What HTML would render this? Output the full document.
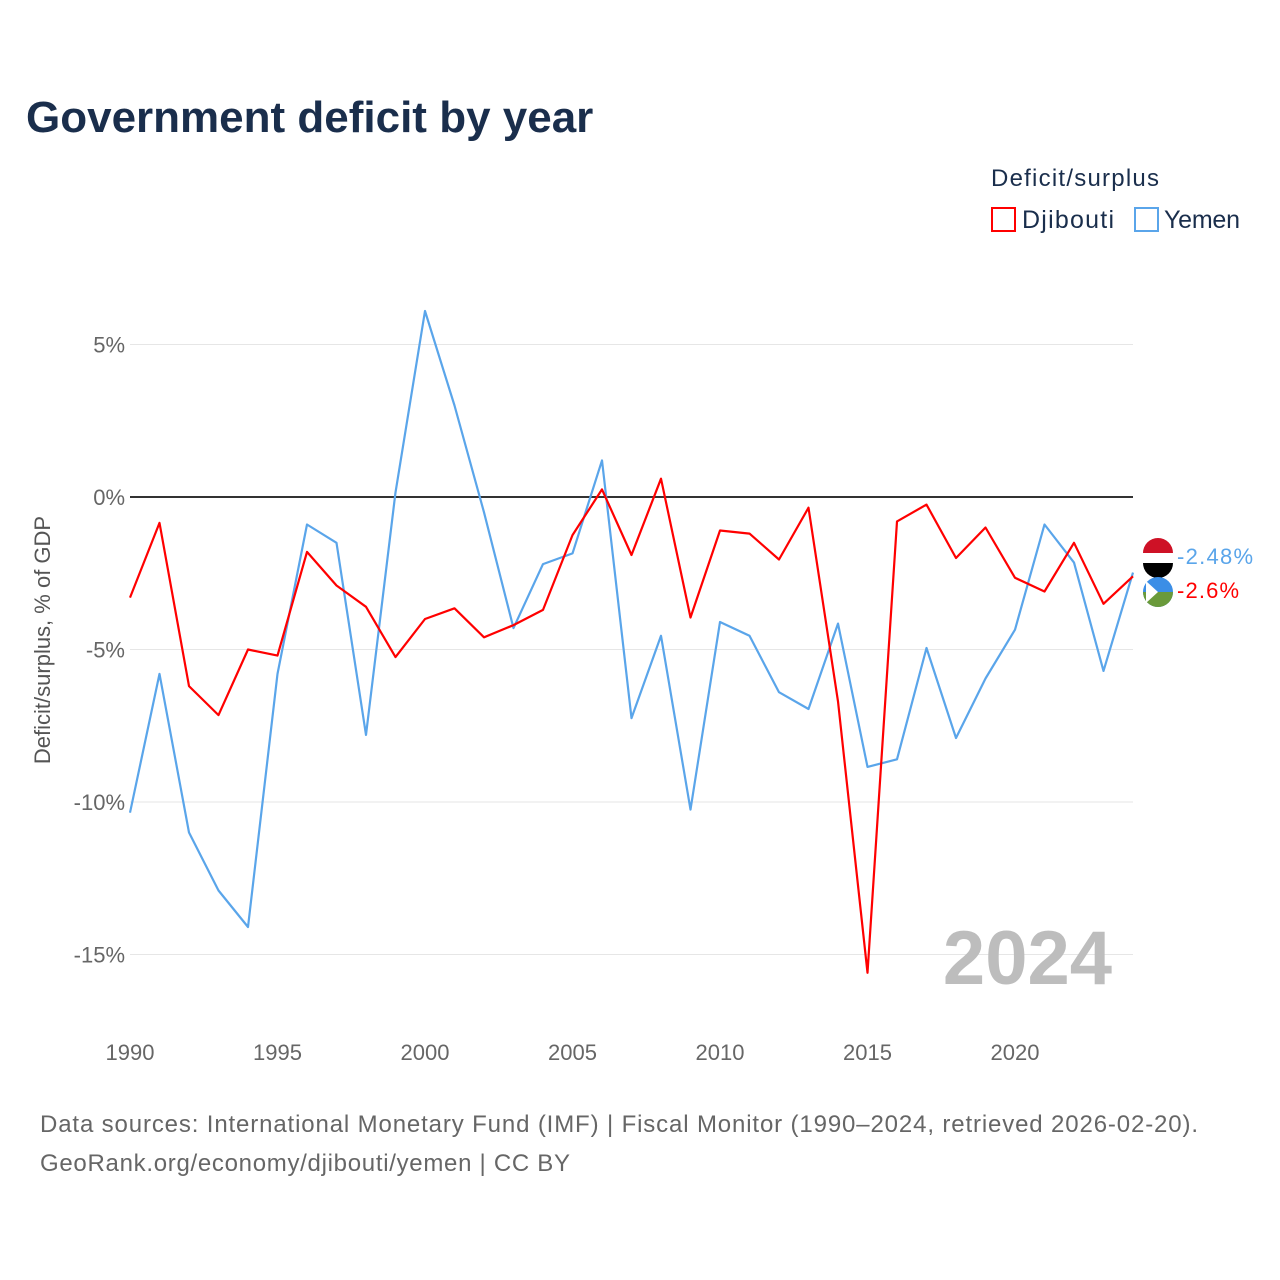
<!DOCTYPE html>
<html><head><meta charset="utf-8">
<style>
body{margin:0;background:#fff;font-family:"Liberation Sans",sans-serif;}
#wrap{position:relative;width:1280px;height:1280px;overflow:hidden;}
</style></head>
<body>
<div id="wrap">
<svg id="chart" width="1280" height="1280" xmlns="http://www.w3.org/2000/svg">
  <text x="26" y="132" font-size="44" font-weight="bold" fill="#1a2e4c">Government deficit by year</text>
  <text x="991" y="186" font-size="24" fill="#1a2e4c" textLength="168">Deficit/surplus</text>
  <g>
    <rect x="992" y="208" width="23" height="23" fill="none" stroke="#ff0000" stroke-width="2"/>
    <text x="1022" y="228" font-size="25" fill="#1a2e4c" textLength="92">Djibouti</text>
  </g>
  <g>
    <rect x="1135" y="208" width="23" height="23" fill="none" stroke="#5aa5ea" stroke-width="2"/>
    <text x="1164" y="228" font-size="25" fill="#1a2e4c" textLength="76">Yemen</text>
  </g>
  <text transform="translate(50,640) rotate(-90)" text-anchor="middle" font-size="22" fill="#555">Deficit/surplus, % of GDP</text>
  <g id="grid"></g>
  <text x="1112" y="984" text-anchor="end" font-size="76" font-weight="bold" fill="#bdbdbd">2024</text>
  <g id="series"></g>
  <text x="40" y="1132" font-size="24" fill="#666" textLength="1158">Data sources: International Monetary Fund (IMF) | Fiscal Monitor (1990–2024, retrieved 2026-02-20).</text>
  <text x="40" y="1171" font-size="24" fill="#666" textLength="530">GeoRank.org/economy/djibouti/yemen | CC BY</text>
</svg>
</div>
<script>
const years = [1990,1991,1992,1993,1994,1995,1996,1997,1998,1999,2000,2001,2002,2003,2004,2005,2006,2007,2008,2009,2010,2011,2012,2013,2014,2015,2016,2017,2018,2019,2020,2021,2022,2023,2024];
const djibouti = [-3.3,-0.85,-6.2,-7.15,-5.0,-5.2,-1.8,-2.9,-3.6,-5.25,-4.0,-3.65,-4.6,-4.2,-3.7,-1.25,0.25,-1.9,0.6,-3.95,-1.1,-1.2,-2.05,-0.35,-6.7,-15.6,-0.8,-0.25,-2.0,-1.0,-2.65,-3.1,-1.5,-3.5,-2.6];
const yemen = [-10.35,-5.8,-11.0,-12.9,-14.1,-5.8,-0.9,-1.5,-7.8,0.15,6.1,3.0,-0.5,-4.3,-2.2,-1.85,1.2,-7.25,-4.55,-10.25,-4.1,-4.55,-6.4,-6.95,-4.15,-8.85,-8.6,-4.95,-7.9,-5.95,-4.35,-0.9,-2.15,-5.7,-2.48];
const yTicks = [5,0,-5,-10,-15];
const yTickLabels = ["5%","0%","-5%","-10%","-15%"];
const xTicks = [1990,1995,2000,2005,2010,2015,2020];

const NS="http://www.w3.org/2000/svg";
const X0=130,X1=1133;
function xs(yr){return X0+(yr-1990)*(X1-X0)/(2024-1990);}
function ys(v){return 497-v*30.5;}
const grid=document.getElementById('grid');
const series=document.getElementById('series');
function mk(tag,attrs,parent){const e=document.createElementNS(NS,tag);for(const k in attrs)e.setAttribute(k,attrs[k]);parent.appendChild(e);return e;}

yTicks.forEach((t,i)=>{
  const l=mk('line',{x1:X0,x2:X1,y1:ys(t),y2:ys(t),stroke:t===0?'#333':'#e6e6e6','stroke-width':t===0?2:1},grid);
  
  
  const tx=mk('text',{x:125,y:ys(t)+8,'text-anchor':'end','font-size':22,fill:'#666'},grid);
  tx.textContent=yTickLabels[i];
  
  
});
xTicks.forEach(t=>{
  const tx=mk('text',{x:xs(t),y:1060,'text-anchor':'middle','font-size':22,fill:'#666'},grid);
  tx.textContent=String(t);
  
  
});
function line(vals,color,name){
  const d=vals.map((v,i)=>(i?'L':'M')+xs(years[i]).toFixed(1)+','+ys(v).toFixed(1)).join(' ');
  const p=mk('path',{d:d,fill:'none',stroke:color,'stroke-width':2.2,'stroke-linejoin':'round'},series);
  
  
}
line(yemen,'#5aa5ea','yemen-line');
line(djibouti,'#ff0000','djibouti-line');

const lastY=yemen[yemen.length-1], lastD=djibouti[djibouti.length-1];
const fy=mk('g',{},series);


mk('circle',{cx:1158,cy:558,r:15,fill:'#fff'},fy);
mk('path',{d:'M1143,553 A15,15 0 0 1 1173,553 Z',fill:'#ce1126'},fy);
mk('path',{d:'M1143,563 A15,15 0 0 0 1173,563 Z',fill:'#000'},fy);
const fd=mk('g',{},series);


mk('circle',{cx:1158,cy:592,r:15,fill:'#3b8ee6'},fd);
mk('path',{d:'M1143,592 A15,15 0 0 0 1173,592 Z',fill:'#6a9a3a'},fd);
mk('path',{d:'M1146,581 L1158,592 L1146,603 Z',fill:'#fff'},fd);
const ly=mk('text',{x:1177,y:564,'font-size':22,fill:'#5aa5ea',textLength:76},series);
ly.textContent=lastY.toFixed(2)+'%';


const ld=mk('text',{x:1177,y:598,'font-size':22,fill:'#ff0000',textLength:62},series);
ld.textContent=lastD+'%';


</script>
</body></html>
